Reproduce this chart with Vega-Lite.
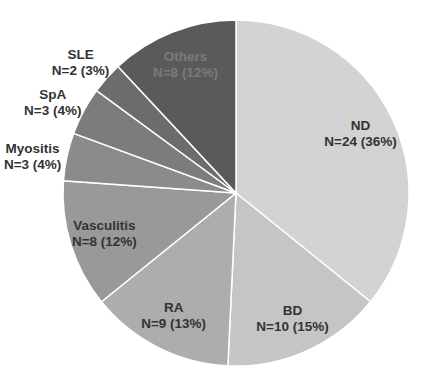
{
  "$schema": "https://vega.github.io/schema/vega-lite/v6.json",
  "autosize": "none",
  "width": 346,
  "height": 346,
  "padding": {"left": 63, "top": 20, "right": 0, "bottom": 0},
  "background": "white",
  "config": {"view": {"stroke": null}},
  "data": {
    "values": [
      {"order": 1, "name": "ND", "n": 24, "label": "ND\nN=24 (36%)"},
      {"order": 2, "name": "BD", "n": 10, "label": "BD\nN=10 (15%)"},
      {"order": 3, "name": "RA", "n": 9, "label": "RA\nN=9 (13%)"},
      {"order": 4, "name": "Vasculitis", "n": 8, "label": "Vasculitis\nN=8 (12%)"},
      {"order": 5, "name": "Myositis", "n": 3, "label": "Myositis\nN=3 (4%)"},
      {"order": 6, "name": "SpA", "n": 3, "label": "SpA\nN=3 (4%)"},
      {"order": 7, "name": "SLE", "n": 2, "label": "SLE\nN=2 (3%)"},
      {"order": 8, "name": "Others", "n": 8, "label": "Others\nN=8 (12%)"}
    ]
  },
  "encoding": {
    "theta": {"field": "n", "type": "quantitative", "stack": true},
    "order": {"field": "order", "type": "quantitative"}
  },
  "layer": [
    {
      "mark": {"type": "arc", "outerRadius": 173, "stroke": "white", "strokeWidth": 1.5},
      "encoding": {
        "color": {
          "field": "name",
          "type": "nominal",
          "legend": null,
          "scale": {
            "domain": ["ND", "BD", "RA", "Vasculitis", "Myositis", "SpA", "SLE", "Others"],
            "range": ["#d3d3d3", "#c5c5c5", "#adadad", "#999999", "#8b8b8b", "#7c7c7c", "#6c6c6c", "#5a5a5a"]
          }
        }
      }
    },
    {
      "mark": {"type": "text", "radius": 138, "dy": -8, "font": "Liberation Sans", "fontSize": 13.5, "fontWeight": "bold", "lineBreak": "\n", "lineHeight": 16, "align": "center", "baseline": "middle"},
      "encoding": {
        "text": {"condition": {"test": "datum.n >= 8", "field": "label"}, "value": ""},
        "color": {"condition": {"test": "datum.name == 'Others'", "value": "#7a7a7a"}, "value": "#333333"}
      }
    },
    {
      "mark": {"type": "text", "radius": 208, "font": "Liberation Sans", "fontSize": 13.5, "fontWeight": "bold", "lineBreak": "\n", "lineHeight": 16, "align": "center", "baseline": "middle", "color": "#333333"},
      "encoding": {
        "text": {"condition": {"test": "datum.n < 8", "field": "label"}, "value": ""}
      }
    }
  ]
}
